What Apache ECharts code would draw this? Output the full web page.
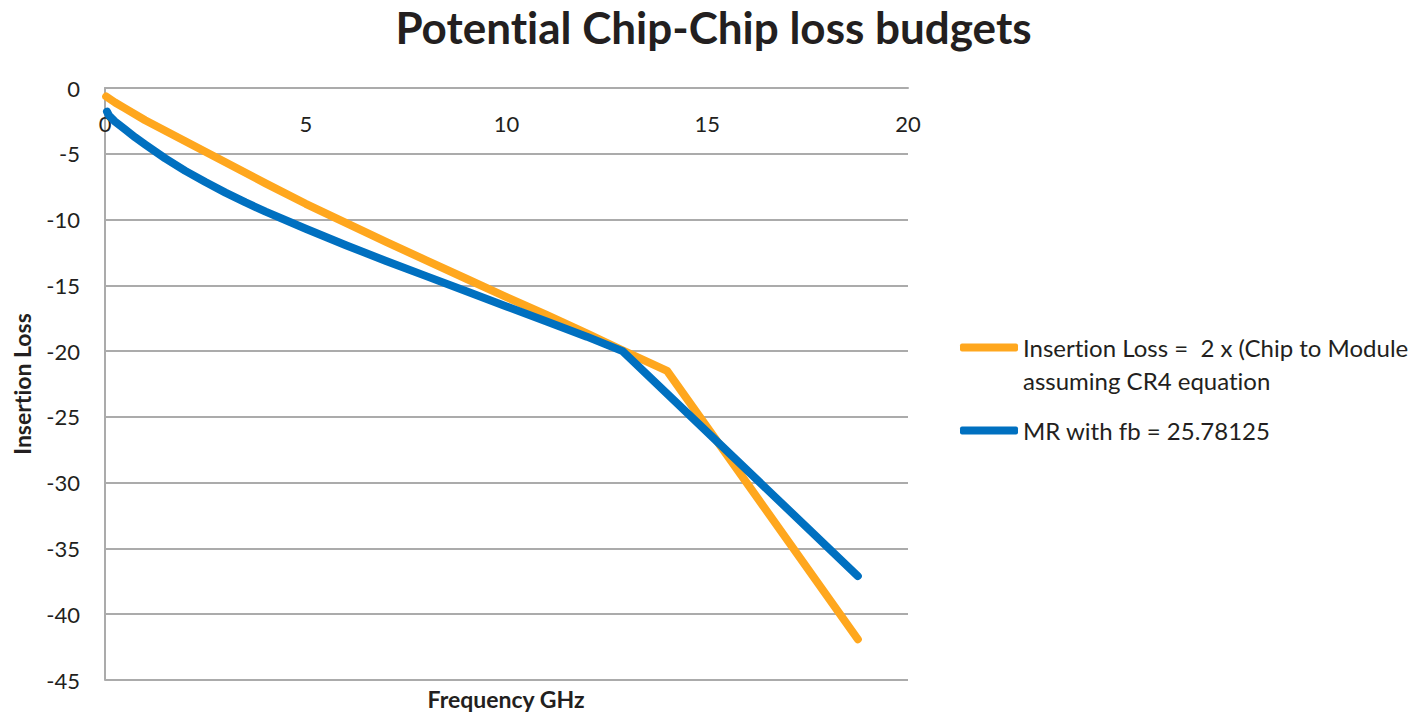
<!DOCTYPE html>
<html>
<head>
<meta charset="utf-8">
<title>Potential Chip-Chip loss budgets</title>
<script src="https://cdn.jsdelivr.net/npm/echarts@6/dist/echarts.min.js"></script>
<style>
  html, body { margin: 0; padding: 0; background: #ffffff; }
  #chart { width: 1427px; height: 717px; }
  /* keep letters such as "ti" unjoined */
  #chart svg text {
    font-variant-ligatures: none !important;
    font-feature-settings: "liga" 0, "clig" 0 !important;
  }
</style>
</head>
<body>
<div id="chart"></div>
<script>
// Frequency (GHz) and insertion loss (dB) for each curve
const ilFreq = [0.03, 0.25, 0.5, 1, 1.5, 2, 3, 4, 5, 6, 7, 8, 9, 10, 11, 12, 12.89, 14, 18.75];
const ilLoss = [-0.65, -1.1, -1.55, -2.45, -3.25, -4.05, -5.65, -7.25, -8.8, -10.25, -11.7, -13.1, -14.5, -15.9, -17.25, -18.65, -19.95, -21.5, -41.9];

const mrFreq = [0.05, 0.1, 0.25, 0.5, 0.75, 1, 1.5, 2, 2.5, 3, 3.5, 4, 5, 6, 7, 8, 9, 10, 11, 12, 12.89, 18.75];
const mrLoss = [-1.8, -2.1, -2.55, -3.15, -3.75, -4.3, -5.35, -6.3, -7.15, -7.95, -8.7, -9.4, -10.7, -11.95, -13.15, -14.3, -15.45, -16.6, -17.75, -18.9, -20, -37.1];

const seriesNames = [
  'Insertion Loss =  2 x (Chip to Module\nassuming CR4 equation',
  'MR with fb = 25.78125'
];
const xTicks = { min: 0, max: 20, step: 5 };
const yTicks = { min: -45, max: 0, step: 5 };

const zip = (xs, ys) => xs.map((x, i) => [x, ys[i]]);

const FONT = 'Lato, "Open Sans", sans-serif';
const INK = '#231f20';
const GRID = '#ababab';
const ORANGE = '#ffa71e';
const BLUE = '#0070c0';

const chart = echarts.init(document.getElementById('chart'), null, { renderer: 'svg' });

chart.setOption({
  backgroundColor: '#ffffff',
  animation: false,
  textStyle: { fontFamily: FONT, color: INK },
  title: [
    {
      text: 'Potential Chip-Chip loss budgets',
      left: 'center',
      top: 0,
      textStyle: { fontFamily: FONT, fontSize: 44, fontWeight: 'bold', color: INK }
    },
    {
      text: 'Frequency GHz',
      left: 506,
      top: 687,
      textAlign: 'center',
      padding: 0,
      textStyle: { fontFamily: FONT, fontSize: 23, fontWeight: 'bold', color: INK }
    }
  ],
  grid: { left: 105, right: 519, top: 88, bottom: 37, containLabel: false },
  legend: {
    orient: 'vertical',
    left: 960,
    top: 298,
    padding: 0,
    itemGap: 17,
    itemWidth: 58,
    itemHeight: 8,
    icon: 'roundRect',
    selectedMode: false,
    // leading blank line keeps the first text line level with its swatch
    formatter: name => (name.indexOf('\n') >= 0 ? '\n' + name : name),
    textStyle: { fontFamily: FONT, fontSize: 24, color: INK, lineHeight: 33 },
    data: seriesNames
  },
  xAxis: {
    type: 'value',
    position: 'top',
    min: xTicks.min,
    max: xTicks.max,
    interval: xTicks.step,
    axisLine: { show: true, onZero: false, lineStyle: { color: GRID, width: 2 } },
    axisTick: { show: false },
    splitLine: { show: false },
    axisLabel: { inside: true, fontFamily: FONT, fontSize: 22, color: INK, margin: 24 }
  },
  yAxis: {
    type: 'value',
    min: yTicks.min,
    max: yTicks.max,
    interval: yTicks.step,
    name: 'Insertion Loss',
    nameLocation: 'middle',
    nameGap: 72,
    nameTextStyle: { fontFamily: FONT, fontSize: 23, fontWeight: 'bold', color: INK },
    axisLine: { show: true, lineStyle: { color: GRID, width: 2 } },
    axisTick: { show: false },
    splitLine: { show: true, lineStyle: { color: GRID, width: 2 } },
    axisLabel: { fontFamily: FONT, fontSize: 22, color: INK, margin: 25, padding: [4, 0, 0, 0] }
  },
  series: [
    {
      name: seriesNames[0],
      type: 'line',
      data: zip(ilFreq, ilLoss),
      showSymbol: false,
      smooth: false,
      color: ORANGE,
      lineStyle: { width: 8, color: ORANGE, cap: 'round', join: 'round' },
      z: 2
    },
    {
      name: seriesNames[1],
      type: 'line',
      data: zip(mrFreq, mrLoss),
      showSymbol: false,
      smooth: false,
      color: BLUE,
      lineStyle: { width: 8, color: BLUE, cap: 'round', join: 'round' },
      z: 3
    }
  ]
});
</script>
</body>
</html>
